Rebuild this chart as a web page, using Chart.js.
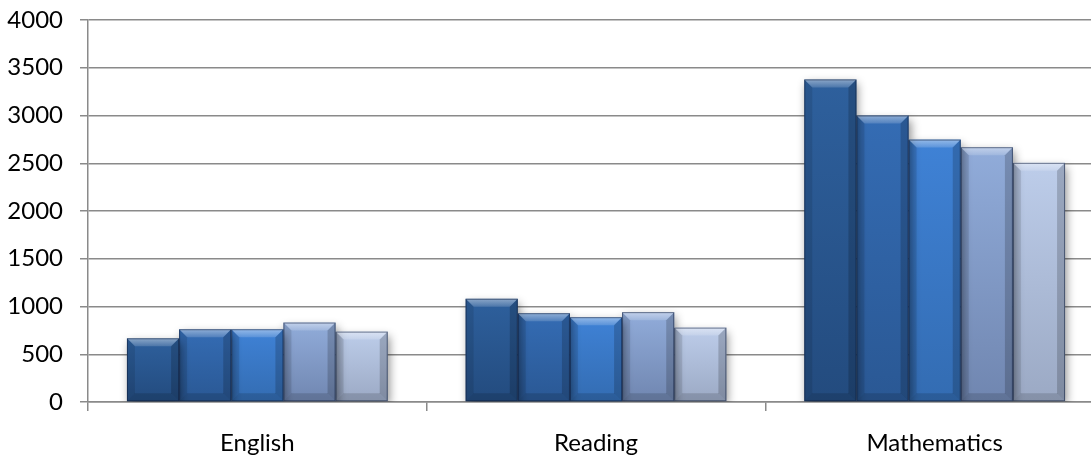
<!DOCTYPE html>
<html>
<head>
<meta charset="utf-8">
<script src="https://cdn.jsdelivr.net/npm/chart.js@4.4.0/dist/chart.umd.min.js"></script>
<style>
  html, body { margin: 0; padding: 0; background: #fff; overflow: hidden; width: 1091px; height: 459px; }
  #wrap { width: 1104px; height: 459px; }
</style>
</head>
<body>
<div id="wrap"><canvas id="c" width="1104" height="459"></canvas></div>
<script>
const categories = ["English", "Reading", "Mathematics"];
const seriesNames = ["Series 1", "Series 2", "Series 3", "Series 4", "Series 5"];
const series1 = [667, 1081, 3378];
const series2 = [762, 930, 3000];
const series3 = [762, 888, 2748];
const series4 = [832, 941, 2668];
const series5 = [737, 779, 2504];
const yTicks = [0, 500, 1000, 1500, 2000, 2500, 3000, 3500, 4000];

const lightColors = ["#2e609d", "#346cb4", "#3f82d6", "#91acda", "#bdcdea"];
const darkColors  = ["#234b7e", "#2a5894", "#336cb2", "#7086b0", "#9ba9c4"];
const seriesData = [series1, series2, series3, series4, series5];

function gradFor(i) {
  return function (ctx) {
    const chart = ctx.chart;
    if (!chart.chartArea || ctx.raw === undefined) return lightColors[i];
    const ys = chart.scales.y;
    const top = ys.getPixelForValue(ctx.raw);
    const bot = ys.getPixelForValue(0);
    const g = chart.ctx.createLinearGradient(0, top, 0, bot);
    g.addColorStop(0, lightColors[i]);
    g.addColorStop(1, darkColors[i]);
    return g;
  };
}

const shadowPlugin = {
  id: 'shadowPlugin',
  beforeDatasetsDraw(chart) {
    const c = chart.ctx;
    c.save();
    c.shadowColor = 'rgba(0,0,0,0.45)';
    c.shadowBlur = 9;
    c.shadowOffsetX = 2;
    c.shadowOffsetY = 4;
  },
  afterDatasetsDraw(chart) {
    const c = chart.ctx;
    c.restore();
    chart.data.datasets.forEach((ds, di) => {
      const meta = chart.getDatasetMeta(di);
      meta.data.forEach(el => {
        const p = el.getProps(['x', 'y', 'base', 'width'], true);
        const l = p.x - p.width / 2, r = p.x + p.width / 2, t = p.y, b = p.base;
        const bv = 8;
        c.save();
        c.beginPath();
        c.moveTo(l, t); c.lineTo(r, t); c.lineTo(r - bv, t + bv); c.lineTo(l + bv, t + bv); c.closePath();
        const tg = c.createLinearGradient(0, t, 0, t + bv);
        tg.addColorStop(0, 'rgba(255,255,255,0.45)');
        tg.addColorStop(1, 'rgba(255,255,255,0.15)');
        c.fillStyle = tg; c.fill();
        c.beginPath();
        c.moveTo(l, t); c.lineTo(l + bv, t + bv); c.lineTo(l + bv, b - bv); c.lineTo(l, b); c.closePath();
        c.fillStyle = 'rgba(0,0,0,0.10)'; c.fill();
        c.beginPath();
        c.moveTo(r, t); c.lineTo(r - bv, t + bv); c.lineTo(r - bv, b - bv); c.lineTo(r, b); c.closePath();
        c.fillStyle = 'rgba(0,0,0,0.18)'; c.fill();
        c.beginPath();
        c.moveTo(l, b); c.lineTo(r, b); c.lineTo(r - bv, b - bv); c.lineTo(l + bv, b - bv); c.closePath();
        c.fillStyle = 'rgba(0,0,0,0.14)'; c.fill();
        c.strokeStyle = 'rgba(15,30,60,0.55)';
        c.lineWidth = 1;
        c.strokeRect(l + 0.5, t + 0.5, p.width - 1, b - t - 1);
        c.restore();
      });
    });
  }
};

new Chart(document.getElementById('c'), {
  type: 'bar',
  data: {
    labels: categories,
    datasets: seriesData.map((d, i) => ({
      label: seriesNames[i],
      data: d,
      backgroundColor: gradFor(i),
      borderWidth: 0,
      categoryPercentage: 0.77,
      barPercentage: 1.0
    }))
  },
  options: {
    responsive: false,
    animation: false,
    devicePixelRatio: 1,
    layout: { padding: { top: 20, left: 0, right: 0, bottom: 0 } },
    plugins: { legend: { display: false }, tooltip: { enabled: false } },
    scales: {
      x: {
        grid: { display: true, drawOnChartArea: false, drawTicks: true, tickLength: 9, color: '#8a8a8a', lineWidth: 1.5, offset: true },
        border: { display: true, color: '#8a8a8a', width: 1.5 },
        ticks: { color: '#000', font: { family: 'Lato', size: 24 }, padding: 18 },
        afterFit(scale) { scale.height = 57; scale.paddingLeft = 0; scale.paddingRight = 0; }
      },
      y: {
        min: 0, max: 4000,
        afterBuildTicks(scale) { scale.ticks = yTicks.map(v => ({ value: v })); },
        grid: { color: '#8a8a8a', lineWidth: 1.5, tickLength: 8 },
        border: { display: true, color: '#8a8a8a', width: 1.5 },
        ticks: { color: '#000', font: { family: 'Lato', size: 24 }, padding: 17, callback: (v) => String(v) },
        afterFit(scale) { scale.width = 88; scale.paddingTop = 0; scale.paddingBottom = 0; }
      }
    }
  },
  plugins: [shadowPlugin]
});
</script>
</body>
</html>
